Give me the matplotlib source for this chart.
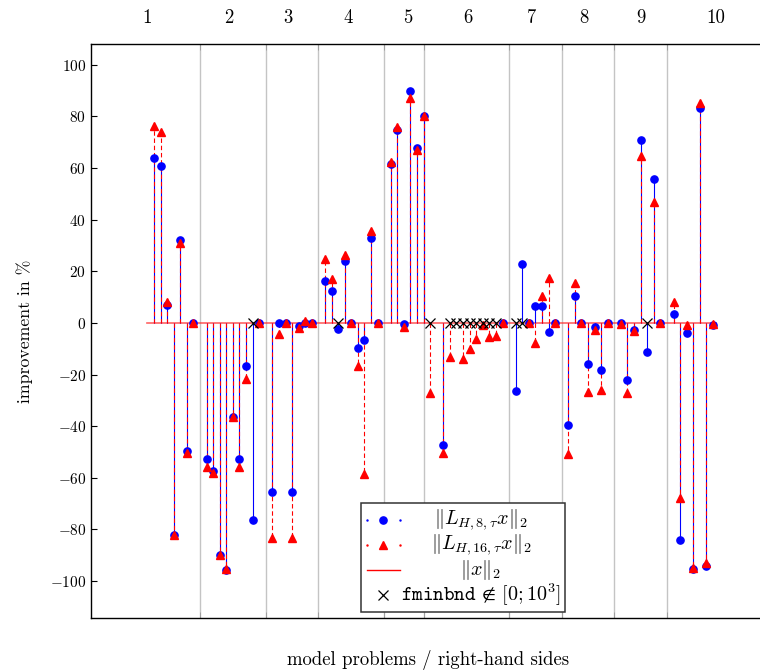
import numpy as np
import matplotlib
matplotlib.use("Agg")
import matplotlib.pyplot as plt
from matplotlib.patches import Rectangle

plt.rcParams["font.family"] = "serif"
plt.rcParams["font.serif"] = ["cmr10", "DejaVu Serif"]
plt.rcParams["mathtext.fontset"] = "cm"
plt.rcParams["axes.formatter.use_mathtext"] = True
plt.rcParams["axes.unicode_minus"] = True

nan = np.nan

# x index of every right-hand side (one empty slot between problem groups)
rhs_index = [1, 2, 3, 4, 5, 6, 7,
             9, 10, 11, 12, 13, 14, 15, 16, 17,
             19, 20, 21, 22, 23, 24, 25,
             27, 28, 29, 30, 31, 32, 33, 34, 35,
             37, 38, 39, 40, 41, 42, 43,
             45, 46, 47, 48, 49, 50, 51, 52, 53, 54,
             56, 57, 58, 59, 60, 61, 62,
             64, 65, 66, 67, 68, 69, 70,
             72, 73, 74, 75, 76, 77, 78,
             80, 81, 82, 83, 84, 85, 86]

# improvement of ||L_{H,8,tau} x||_2 in %
imp_lh8 = [64, 61, 7, -82, 32, -49.5, 0,
           -52.7, -57.2, -90, -95.7, -36.5, -52.7, -16.7, -76.4, 0,
           -65.4, 0, 0, -65.5, -1, 0, 0,
           16.4, 12.3, -2.5, 24, 0, -9.6, -6.6, 33, 0,
           61.6, 74.8, -0.5, 89.7, 67.7, 80, nan,
           -47.3, nan, nan, nan, nan, nan, nan, nan, nan, 0,
           -26.4, 22.7, 0, 6.7, 6.7, -3.5, 0,
           -39.7, 10.5, 0, -16, -1.7, -18.2, 0,
           0, -22.2, -2.7, 70.7, -11.1, 55.7, 0,
           3.5, -83.9, -4, -95.5, 83.2, -94.2, -0.8]

# improvement of ||L_{H,16,tau} x||_2 in %
imp_lh16 = [76.5, 74, 8.3, -82, 31, -50.3, 0,
            -56, -58.3, -90, -95.5, -36.6, -56, -21.7, nan, 0,
            -83.2, -4.4, 0, -83.3, -1.8, 0.8, 0,
            24.8, 17, nan, 26.4, 0, -16.7, -58.5, 35.6, 0,
            62.4, 75.8, -1.4, 87.1, 66.9, 80, -27.2,
            -50.3, -13.1, nan, -14.1, -10.1, -6.2, -0.8, -5.3, -4.9, 0,
            nan, nan, 0, -7.9, 10.5, 17.3, 0,
            -50.9, 15.4, 0, -26.9, -2.7, -26, 0,
            -0.5, -27.3, -3.1, 64.6, nan, 46.8, 0,
            8, -67.7, -0.8, -94.8, 85.2, -93.1, -0.5]

# right-hand sides where fminbnd left [0; 10^3]
fminbnd_fail = [16, 29, 43, 46, 47, 48, 49, 50, 51, 52, 53, 56, 57, 76]

# reference ||x||_2 (zero improvement)
ref_x = [0, 86.5]
ref_y = [0, 0]

# group separators and group labels on the top axis
group_bounds = [8, 18, 26, 36, 42, 55, 63, 71, 79]
group_label_pos = [0, 12.4, 21.4, 30.5, 39.6, 48.7, 58.4, 66.3, 75.0, 86.4]
group_labels = ["1", "2", "3", "4", "5", "6", "7", "8", "9", "10"]

yticks = [-100, -80, -60, -40, -20, 0, 20, 40, 60, 80, 100]

x = np.array(rhs_index, dtype=float)
b = np.array(imp_lh8, dtype=float)
r = np.array(imp_lh16, dtype=float)

fig = plt.figure(figsize=(7.6, 6.72), dpi=100)
ax = fig.add_axes([0.1197, 0.0804, 0.8868, 0.8542])
ax.set_xlim(-8.58, 93.9)
ax.set_ylim(-114.3, 108.1)

# separators
for g in group_bounds:
    ax.axvline(g, color="#c4c4c4", lw=1.0, zorder=0)

# baseline
ax.plot(ref_x, ref_y, color="#ff3030", lw=1.2, alpha=0.75, zorder=1)

# stems
mb = ~np.isnan(b)
mr = ~np.isnan(r)
ax.vlines(x[mb], 0, b[mb], colors="blue", lw=0.8, zorder=2)
ax.vlines(x[mr], 0, r[mr], colors="red", lw=0.8, linestyles=(0, (4, 2.5)), zorder=3)

# markers
ax.plot(x[mb], b[mb], ls="none", marker="o", ms=5.2, color="blue", mec="blue", zorder=4)
ax.plot(x[mr], r[mr], ls="none", marker="^", ms=6, color="red", mec="red", zorder=5)
ax.plot(fminbnd_fail, np.zeros(len(fminbnd_fail)), ls="none", marker="x", ms=7,
        mew=0.9, color="black", zorder=6)

# axes styling
ax.set_yticks(yticks)
ax.tick_params(axis="y", direction="in", length=4, labelsize=11, left=True, right=False)
ax.set_xticks(group_label_pos)
ax.set_xticklabels(group_labels)
ax.tick_params(axis="x", which="major", length=0, top=True, bottom=False,
               labeltop=True, labelbottom=False, labelsize=13.5, pad=12)
ax.set_xticks(group_bounds, minor=True)
ax.tick_params(axis="x", which="minor", direction="in", length=4, color="#9a9a9a",
               top=True, bottom=True)
ax.spines["right"].set_visible(False)
for s in ("left", "top", "bottom"):
    ax.spines[s].set_linewidth(1.0)

ax.set_ylabel("improvement in %", fontsize=12.8, labelpad=12)
ax.set_xlabel("model problems / right-hand sides", fontsize=13.5, labelpad=20)

# legend box
lx0, ly0, lx1, ly1 = 0.4006, 0.0105, 0.703, 0.2003
ax.add_patch(Rectangle((lx0, ly0), lx1 - lx0, ly1 - ly0, transform=ax.transAxes,
                       facecolor="white", edgecolor="#333333", lw=1.1, zorder=10))
hx = (383.3 - 91) / 674
hdx = 16.7 / 674
tx = (481 - 91) / 674
rows = [(618 - 520) / 574, (618 - 545) / 574, (618 - 570) / 574, (618 - 595) / 574]
ax.plot([hx - hdx, hx + hdx], [rows[0]] * 2, ls="none", marker=".", ms=1.5, color="blue",
        transform=ax.transAxes, zorder=11)
ax.plot([hx], [rows[0]], ls="none", marker="o", ms=5.2, color="blue", transform=ax.transAxes, zorder=11)
ax.plot([hx - hdx, hx + hdx], [rows[1]] * 2, ls="none", marker=".", ms=1.5, color="red",
        transform=ax.transAxes, zorder=11)
ax.plot([hx], [rows[1]], ls="none", marker="^", ms=6, color="red", transform=ax.transAxes, zorder=11)
ax.plot([hx - hdx, hx + hdx], [rows[2]] * 2, color="red", lw=1.0, transform=ax.transAxes, zorder=11)
ax.plot([hx], [rows[3]], ls="none", marker="x", ms=7, mew=0.9, color="black",
        transform=ax.transAxes, zorder=11)
labels = [r"$\|L_{H,8,\tau}x\|_2$", r"$\|L_{H,16,\tau}x\|_2$", r"$\|x\|_2$",
          r"$\mathtt{fminbnd}\,\notin\,[0;10^3]$"]
for yy, lab in zip(rows, labels):
    ax.text(tx, yy, lab, transform=ax.transAxes, ha="center", va="center",
            fontsize=14.5, zorder=11)

fig.savefig("out.png", dpi=100)
